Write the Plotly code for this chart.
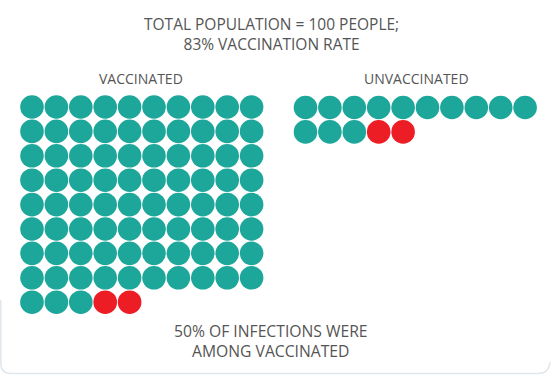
import plotly.graph_objects as go

# ---- data ----
groups = ["VACCINATED", "UNVACCINATED"]
healthy = [83, 13]          # teal dots per group
infected = [2, 2]           # red dots per group
title_lines = ["TOTAL POPULATION = 100 PEOPLE;", "83% VACCINATION RATE"]
footer_lines = ["50% OF INFECTIONS WERE", "AMONG VACCINATED"]

# ---- layout constants (pixels) ----
W, H = 551, 375
COLS = 10
STEP_X, STEP_Y = 24.4, 24.4
ORIGINS = [(32, 107), (305.5, 107.5)]
LABEL_X = [141, 416]
TEAL = "#1ca79a"
RED = "#ec1d25"
TXT = "#555555"
FONT = "Open Sans, Noto Sans, sans-serif"

fig = go.Figure()
for g, name in enumerate(groups):
    n_h, n_i = healthy[g], infected[g]
    ox, oy = ORIGINS[g]
    xs_h, ys_h, xs_i, ys_i = [], [], [], []
    for k in range(n_h + n_i):
        r, c = divmod(k, COLS)
        x = ox + c * STEP_X
        y = oy + r * STEP_Y
        if k < n_h:
            xs_h.append(x); ys_h.append(y)
        else:
            xs_i.append(x); ys_i.append(y)
    fig.add_trace(go.Scatter(x=xs_h, y=ys_h, mode="markers", hoverinfo="skip",
                             marker=dict(size=23.6, color=TEAL, line=dict(width=0))))
    fig.add_trace(go.Scatter(x=xs_i, y=ys_i, mode="markers", hoverinfo="skip",
                             marker=dict(size=23.6, color=RED, line=dict(width=0))))
    fig.add_annotation(x=LABEL_X[g], y=78.5, text=name, showarrow=False,
                       font=dict(family=FONT, size=14, color=TXT),
                       xanchor="center", yanchor="middle")

fig.add_annotation(x=271, y=34, text="<br>".join(title_lines), showarrow=False,
                   font=dict(family=FONT, size=15.5, color=TXT), align="center",
                   xanchor="center", yanchor="middle")
fig.add_annotation(x=271, y=340.5, text="<br>".join(footer_lines), showarrow=False,
                   font=dict(family=FONT, size=15.7, color=TXT), align="center",
                   xanchor="center", yanchor="middle")

# faint screenshot frame (bottom / left edge)
fig.add_shape(type="path", path="M 0.8,300 L 0.8,363 Q 0.8,373.5 11,373.5 L 538,373.5 Q 549,373.5 550,362",
              line=dict(color="#e0e7ed", width=1.5), layer="below")

fig.update_layout(
    width=W, height=H, margin=dict(l=0, r=0, t=0, b=0),
    paper_bgcolor="white", plot_bgcolor="white", showlegend=False,
    xaxis=dict(range=[0, W], visible=False, fixedrange=True),
    yaxis=dict(range=[H, 0], visible=False, fixedrange=True),
)
fig.write_html("out.html", config={"displayModeBar": False},
               post_script="document.body.style.margin='0';document.body.style.overflow='hidden';")
